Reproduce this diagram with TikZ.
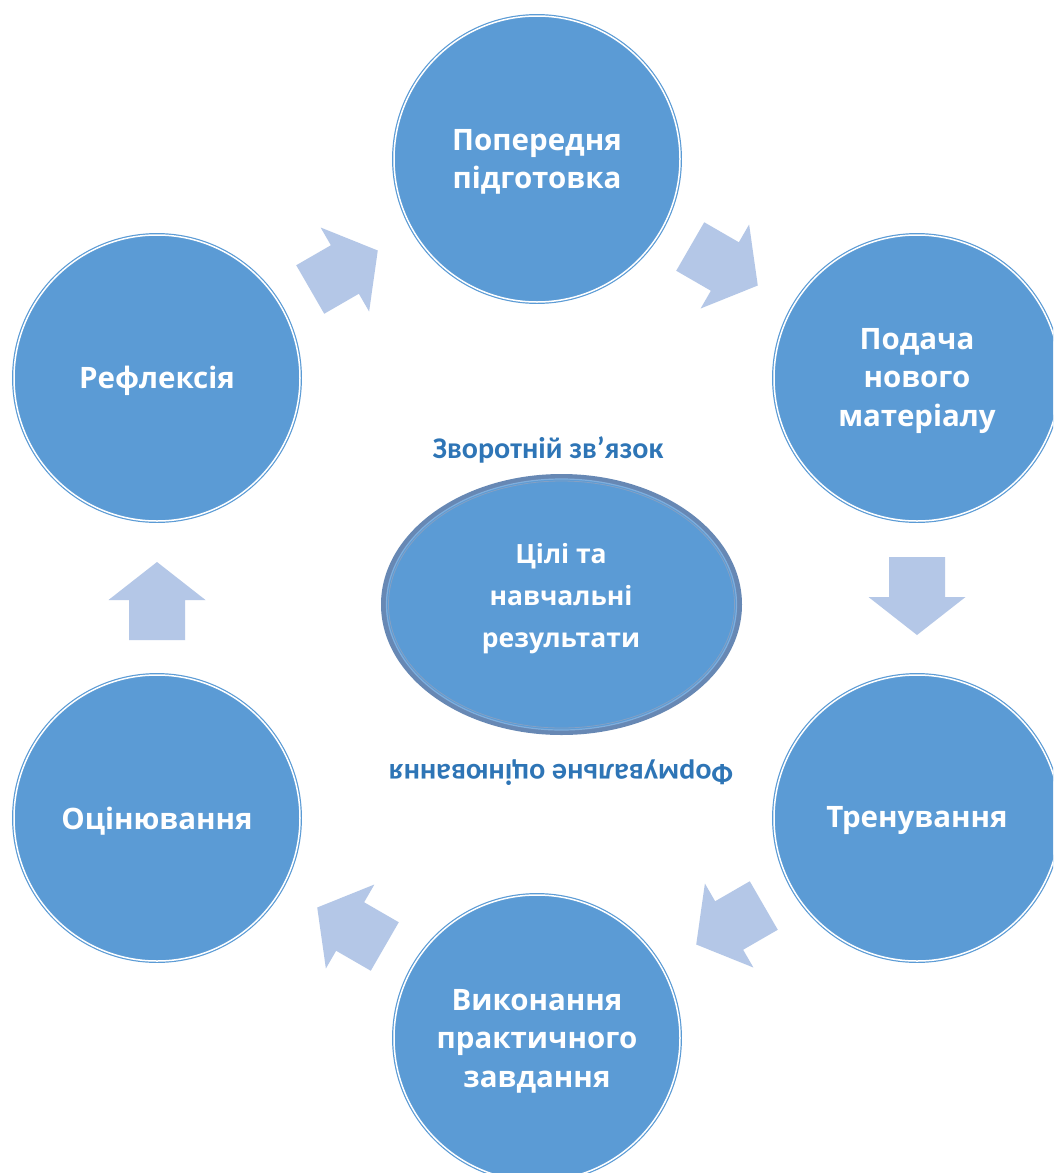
\documentclass[tikz,border=0pt]{standalone}
\usepackage{fontspec}
\setmainfont{Open Sans}
\newfontfamily\osans{Open Sans}
\newfontfamily\carl{Carlito}
\usetikzlibrary{shapes.geometric}
\definecolor{cfill}{HTML}{5B9BD5}
\definecolor{carrow}{HTML}{B4C7E7}
\definecolor{clabel}{HTML}{2E75B6}
\definecolor{cring}{HTML}{6788B4}
\definecolor{cringlight}{HTML}{7FAEDD}
\tikzset{
  stagetext/.style={text=white, align=center, inner sep=0pt, yshift=-3pt,
    font=\osans\bfseries\fontsize{29.5}{38.5}\selectfont},
  stage/.style={circle, minimum size=286pt, inner sep=0pt, fill=cfill,
    draw=cfill, line width=1.2pt, double=white, double distance=1.5pt},
  goal/.style={ellipse, minimum width=356pt, minimum height=256pt, inner sep=0pt,
    fill=cfill, draw=cring, line width=5pt},
  lbl/.style={text=clabel, font=\carl\bfseries\fontsize{30}{34}\selectfont, inner sep=0pt},
  blockarrow/.style={fill=carrow}
}
\newcommand{\blockarr}[3]{%
  \fill[blockarrow, shift={(#1,#2)}, rotate=#3]
    (-39,-28) -- (1,-28) -- (1,-48.5) -- (39,0) -- (1,48.5) -- (1,28) -- (-39,28) -- cycle;}
\begin{document}
\begin{tikzpicture}[x=1pt,y=-1pt]
\useasboundingbox (0,0) rectangle (1053,1173);
\fill[white] (0,0) rectangle (1053,1173);
\begin{scope}
\clip (0,0) rectangle (1053,1173);
\node[stage, label={[stagetext]center:{Попередня\\підготовка}}] (prep) at (537,159) {};
\node[stage, label={[stagetext]center:{Подача\\нового\\матеріалу}}] (new) at (917,378) {};
\node[stage, label={[stagetext]center:{Тренування}}] (train) at (917,818) {};
\node[stage, label={[stagetext]center:{Виконання\\практичного\\завдання}}] (task) at (537,1038) {};
\node[stage, label={[stagetext]center:{Оцінювання}}] (eval) at (157,818) {};
\node[stage, label={[stagetext]center:{Рефлексія}}] (refl) at (157,378) {};

\node[goal] (goal) at (561.5,604.5) {};
\draw[cringlight, line width=1.2pt] (goal.center) ellipse [x radius=175pt, y radius=125.5pt];
\draw[cring!80, line width=0.8pt] (goal.center) ellipse [x radius=173pt, y radius=123.5pt];
\node[text=white, align=center, inner sep=0pt, font=\osans\bfseries\fontsize{26.5}{42}\selectfont] (goaltext) at (561,599) {Цілі та\\навчальні\\результати};

\node[lbl] (fb) at (548,450) {Зворотній зв’язок};
\node[lbl, rotate=180] (fa) at (561,773) {Формувальне оцінювання};

\blockarr{344}{270}{30}
\blockarr{724}{266}{-30}
\blockarr{917}{596}{-90}
\blockarr{730}{925}{-150}
\blockarr{351}{927}{150}
\blockarr{157}{601}{90}
\end{scope}
\end{tikzpicture}
\end{document}
